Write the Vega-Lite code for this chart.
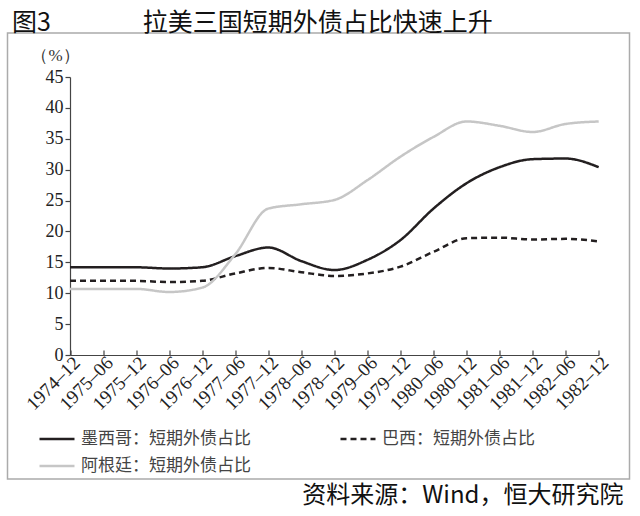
{
  "$schema": "https://vega.github.io/schema/vega-lite/v6.json",
  "width": 622,
  "height": 446,
  "autosize": {"type": "none"},
  "padding": {"left": 7.5, "top": 33, "right": 10.5, "bottom": 37},
  "background": "white",
  "title": {
    "text": "图3\u3000\u3000\u3000\u00a0\u00a0\u00a0拉美三国短期外债占比快速上升",
    "anchor": "start",
    "dx": 4.5,
    "offset": -3,
    "font": "Noto Sans CJK SC",
    "fontSize": 25,
    "fontWeight": "normal",
    "color": "#111111"
  },
  "config": {
    "view": {"stroke": "#ababab", "strokeWidth": 1.5},
    "axis": {"domainColor": "#444444", "tickColor": "#444444", "domainWidth": 1.2, "tickWidth": 1.2, "grid": false}
  },
  "data": {
    "values": [
      {"date": "1974-12", "series": "墨西哥：短期外债占比", "value": 14.2},
      {"date": "1975-06", "series": "墨西哥：短期外债占比", "value": 14.2},
      {"date": "1975-12", "series": "墨西哥：短期外债占比", "value": 14.2},
      {"date": "1976-06", "series": "墨西哥：短期外债占比", "value": 14.0},
      {"date": "1976-12", "series": "墨西哥：短期外债占比", "value": 14.2},
      {"date": "1977-06", "series": "墨西哥：短期外债占比", "value": 16.0},
      {"date": "1977-12", "series": "墨西哥：短期外债占比", "value": 17.4},
      {"date": "1978-06", "series": "墨西哥：短期外债占比", "value": 15.2},
      {"date": "1978-12", "series": "墨西哥：短期外债占比", "value": 13.75},
      {"date": "1979-06", "series": "墨西哥：短期外债占比", "value": 15.4},
      {"date": "1979-12", "series": "墨西哥：短期外债占比", "value": 18.6},
      {"date": "1980-06", "series": "墨西哥：短期外债占比", "value": 23.7},
      {"date": "1980-12", "series": "墨西哥：短期外债占比", "value": 27.8},
      {"date": "1981-06", "series": "墨西哥：短期外债占比", "value": 30.4},
      {"date": "1981-12", "series": "墨西哥：短期外债占比", "value": 31.7},
      {"date": "1982-06", "series": "墨西哥：短期外债占比", "value": 31.8},
      {"date": "1982-12", "series": "墨西哥：短期外债占比", "value": 30.4},
      {"date": "1974-12", "series": "巴西：短期外债占比", "value": 12.0},
      {"date": "1975-06", "series": "巴西：短期外债占比", "value": 12.0},
      {"date": "1975-12", "series": "巴西：短期外债占比", "value": 12.0},
      {"date": "1976-06", "series": "巴西：短期外债占比", "value": 11.8},
      {"date": "1976-12", "series": "巴西：短期外债占比", "value": 12.0},
      {"date": "1977-06", "series": "巴西：短期外债占比", "value": 13.2},
      {"date": "1977-12", "series": "巴西：短期外债占比", "value": 14.1},
      {"date": "1978-06", "series": "巴西：短期外债占比", "value": 13.4},
      {"date": "1978-12", "series": "巴西：短期外债占比", "value": 12.8},
      {"date": "1979-06", "series": "巴西：短期外债占比", "value": 13.2},
      {"date": "1979-12", "series": "巴西：短期外债占比", "value": 14.3},
      {"date": "1980-06", "series": "巴西：短期外债占比", "value": 16.7},
      {"date": "1980-12", "series": "巴西：短期外债占比", "value": 18.9},
      {"date": "1981-06", "series": "巴西：短期外债占比", "value": 19.0},
      {"date": "1981-12", "series": "巴西：短期外债占比", "value": 18.7},
      {"date": "1982-06", "series": "巴西：短期外债占比", "value": 18.8},
      {"date": "1982-12", "series": "巴西：短期外债占比", "value": 18.4},
      {"date": "1974-12", "series": "阿根廷：短期外债占比", "value": 10.7},
      {"date": "1975-06", "series": "阿根廷：短期外债占比", "value": 10.7},
      {"date": "1975-12", "series": "阿根廷：短期外债占比", "value": 10.7},
      {"date": "1976-06", "series": "阿根廷：短期外债占比", "value": 10.2},
      {"date": "1976-12", "series": "阿根廷：短期外债占比", "value": 10.9},
      {"date": "1977-06", "series": "阿根廷：短期外债占比", "value": 16.3},
      {"date": "1977-12", "series": "阿根廷：短期外债占比", "value": 23.7},
      {"date": "1978-06", "series": "阿根廷：短期外债占比", "value": 24.4},
      {"date": "1978-12", "series": "阿根廷：短期外债占比", "value": 25.1},
      {"date": "1979-06", "series": "阿根廷：短期外债占比", "value": 28.3},
      {"date": "1979-12", "series": "阿根廷：短期外债占比", "value": 32.1},
      {"date": "1980-06", "series": "阿根廷：短期外债占比", "value": 35.3},
      {"date": "1980-12", "series": "阿根廷：短期外债占比", "value": 37.8},
      {"date": "1981-06", "series": "阿根廷：短期外债占比", "value": 37.1},
      {"date": "1981-12", "series": "阿根廷：短期外债占比", "value": 36.1},
      {"date": "1982-06", "series": "阿根廷：短期外债占比", "value": 37.4},
      {"date": "1982-12", "series": "阿根廷：短期外债占比", "value": 37.8}
    ]
  },
  "mark": {"type": "line", "interpolate": "monotone", "strokeWidth": 2.5},
  "encoding": {
    "x": {
      "field": "date",
      "type": "ordinal",
      "sort": null,
      "scale": {"range": [62.5, 591.2], "padding": 0},
      "axis": {
        "orient": "bottom",
        "offset": -124,
        "tickSize": -5,
        "labelAngle": -45,
        "labelFont": "Liberation Serif",
        "labelFontSize": 19,
        "labelColor": "#222222",
        "labelPadding": 3,
        "labelExpr": "replace(datum.label, '-', '–')",
        "title": "资料来源：Wind，恒大研究院",
        "titleFont": "Noto Sans CJK SC",
        "titleFontSize": 24,
        "titleFontWeight": "normal",
        "titleColor": "#111111",
        "titleX": 615.5,
        "titleY": 140,
        "titleAlign": "right",
        "titleBaseline": "middle",
        "titleAnchor": null
      }
    },
    "y": {
      "field": "value",
      "type": "quantitative",
      "scale": {"domain": [0, 45], "range": [322, 44], "nice": false, "zero": true},
      "axis": {
        "orient": "left",
        "offset": -62.5,
        "values": [0, 5, 10, 15, 20, 25, 30, 35, 40, 45],
        "tickSize": 5,
        "labelFont": "Liberation Serif",
        "labelFontSize": 18,
        "labelColor": "#222222",
        "labelPadding": 2,
        "title": "（%）",
        "titleFont": "Liberation Serif",
        "titleFontSize": 17,
        "titleFontWeight": "normal",
        "titleColor": "#333333",
        "titleAngle": 0,
        "titleX": -15,
        "titleY": 22,
        "titleAlign": "center",
        "titleBaseline": "middle"
      }
    },
    "color": {
      "field": "series",
      "type": "nominal",
      "sort": ["墨西哥：短期外债占比", "巴西：短期外债占比", "阿根廷：短期外债占比"],
      "scale": {
        "domain": ["墨西哥：短期外债占比", "巴西：短期外债占比", "阿根廷：短期外债占比"],
        "range": ["#231f20", "#231f20", "#c6c6c6"]
      },
      "legend": {
        "title": null,
        "orient": "none",
        "legendX": 30.5,
        "legendY": 387,
        "direction": "horizontal",
        "columns": 2,
        "columnPadding": 84,
        "rowPadding": 0,
        "symbolType": "stroke",
        "symbolSize": 1225,
        "symbolStrokeWidth": 2.5,
        "labelOffset": 5,
        "labelFont": "Noto Sans CJK SC",
        "labelFontSize": 17,
        "labelColor": "#444444",
        "labelLimit": 300
      }
    },
    "strokeDash": {
      "field": "series",
      "type": "nominal",
      "sort": ["墨西哥：短期外债占比", "巴西：短期外债占比", "阿根廷：短期外债占比"],
      "scale": {
        "domain": ["墨西哥：短期外债占比", "巴西：短期外债占比", "阿根廷：短期外债占比"],
        "range": [[1, 0], [6, 4], [1, 0]]
      },
      "legend": {
        "title": null,
        "orient": "none",
        "legendX": 30.5,
        "legendY": 387,
        "direction": "horizontal",
        "columns": 2,
        "columnPadding": 84,
        "rowPadding": 0,
        "symbolType": "stroke",
        "symbolSize": 1225,
        "symbolStrokeWidth": 2.5,
        "labelOffset": 5,
        "labelFont": "Noto Sans CJK SC",
        "labelFontSize": 17,
        "labelColor": "#444444",
        "labelLimit": 300
      }
    }
  }
}
